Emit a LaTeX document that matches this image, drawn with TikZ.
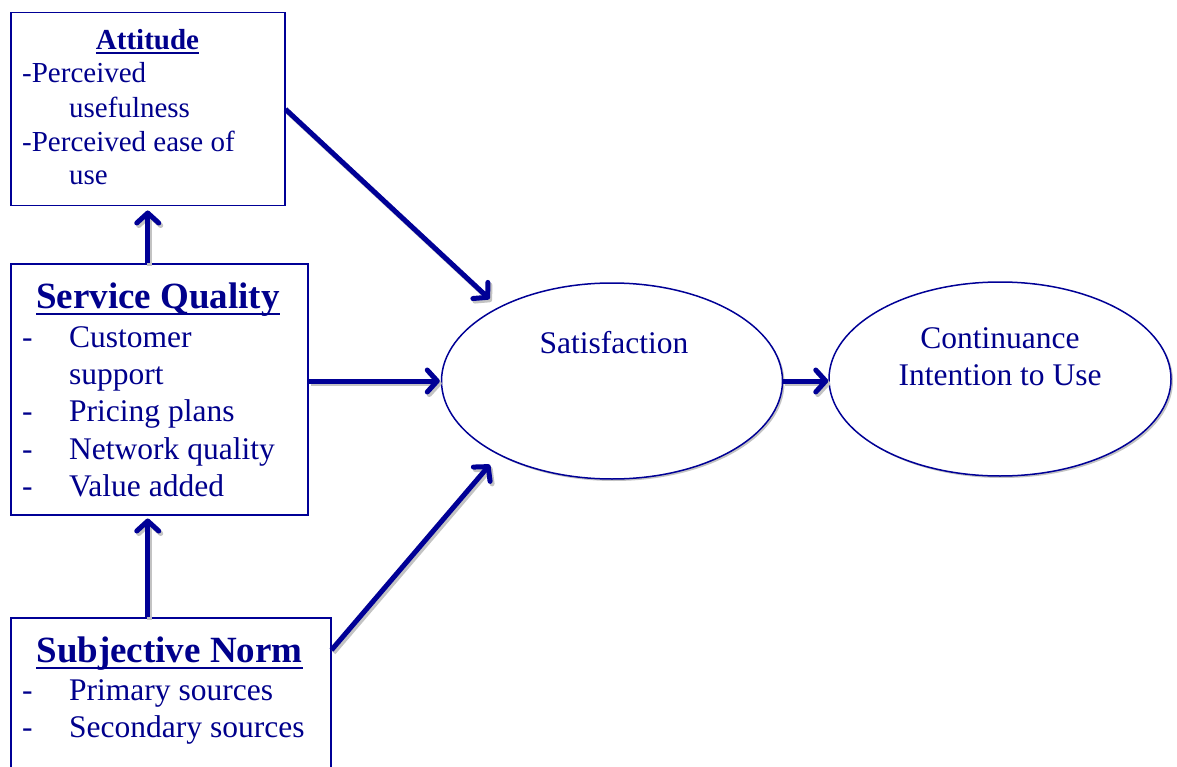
\documentclass[tikz,border=0pt]{standalone}
\usepackage{fontspec}
\setmainfont{Liberation Serif}
\usetikzlibrary{arrows.meta,shadows,shapes.geometric}
\definecolor{navy}{RGB}{0,0,140}
\definecolor{lnavy}{RGB}{0,0,150}
\definecolor{shade}{RGB}{195,195,195}
\newcommand\arr[3][]{%
  \draw[sconn,#1,transform canvas={shift={(2pt,-2.5pt)}}] #2 -- #3;
  \draw[conn,#1] #2 -- #3;}
\begin{document}
\begin{tikzpicture}[x=1pt,y=-1pt,
  box/.style={draw=lnavy, line width=1.5pt, anchor=north west, inner sep=0pt},
  txt/.style={text=navy, anchor=base west, inner sep=0pt, font=\fontsize{31.5}{37}\selectfont},
  atxt/.style={txt, font=\fontsize{29}{34}\selectfont},
  ttl/.style={text=navy, anchor=base, inner sep=0pt, font=\fontsize{37}{44}\selectfont\bfseries},
  ell/.style={ellipse, draw=lnavy, line width=1.5pt, fill=white, inner sep=0pt,
    minimum width=341pt, minimum height=196pt,
    drop shadow={shadow xshift=2pt, shadow yshift=-2pt, fill=shade, opacity=1}},
  conn/.style={line width=5pt, draw=lnavy, -{Straight Barb[length=10pt,width=22pt,round]}},
  sconn/.style={conn, draw=shade},
  uline/.style={line width=2.5pt, draw=navy}
]
\useasboundingbox (0,0) rectangle (1177,767);
\fill[white] (0,0) rectangle (1177,767);

% boxes
\node[box, minimum width=274pt, minimum height=193pt] (att) at (10,12) {};
\node[box, minimum width=297pt, minimum height=251pt] (sq) at (10,263) {};
\node[box, minimum width=320pt, minimum height=170pt] (sn) at (10,617) {};

% ellipses
\node[ell] (sat) at (612,381) {};
\node[ell, minimum width=342pt, minimum height=194pt] (cont) at (1000,379) {};

% connectors
\arr[shorten >=12pt]{(att.east)}{(sat.147)}
\arr[shorten >=1pt]{(sq.east |- sat.west)}{(sat.west)}
\coordinate (snc) at ([yshift=-33pt]sn.north east);
\arr[shorten >=13pt]{(snc)}{(sat.213)}
\arr{(sat.east)}{(sat.east -| cont.west)}
\arr[shorten >=4pt]{(att.south |- sq.north)}{(att.south)}
\arr[shorten >=3pt]{(att.south |- sn.north)}{(att.south |- sq.south)}

% Attitude text
\node[ttl, font=\fontsize{29}{34}\selectfont\bfseries] (attT) at (147.5,50) {Attitude};
\draw[uline, line width=2pt] ([yshift=-3pt]attT.base west) -- ([yshift=-3pt]attT.base east);
\node[atxt] (a1) at (22,83) {-Perceived};
\node[atxt] (a2) at (69,118) {usefulness};
\node[atxt] (a3) at (22,152) {-Perceived ease of};
\node[atxt] (a4) at (69,185) {use};

% Service Quality text
\node[ttl] (sqT) at (158,308) {Service Quality};
\draw[uline] ([yshift=-6pt]sqT.base west) -- ([yshift=-6pt]sqT.base east);
\node[txt] (sd1) at (22,347) {-};
\node[txt] (s1) at (69,347) {Customer};
\node[txt] (s1b) at (69,384) {support};
\node[txt] (sd2) at (22,421) {-};
\node[txt] (s2) at (69,421) {Pricing plans};
\node[txt] (sd3) at (22,459) {-};
\node[txt] (s3) at (69,459) {Network quality};
\node[txt] (sd4) at (22,496) {-};
\node[txt] (s4) at (69,496) {Value added};

% Subjective Norm text
\node[ttl] (snT) at (169.5,662) {Subjective Norm};
\draw[uline] ([yshift=-6pt]snT.base west) -- ([yshift=-6pt]snT.base east);
\node[txt] (nd1) at (22,700) {-};
\node[txt] (n1) at (69,700) {Primary sources};
\node[txt] (nd2) at (22,737) {-};
\node[txt] (n2) at (69,737) {Secondary sources};

% ellipse text
\node[txt, anchor=base] (satT) at (614,353) {Satisfaction};
\node[txt, anchor=base] (c1) at (1000,348) {Continuance};
\node[txt, anchor=base] (c2) at (1000,385) {Intention to Use};
\end{tikzpicture}
\end{document}
